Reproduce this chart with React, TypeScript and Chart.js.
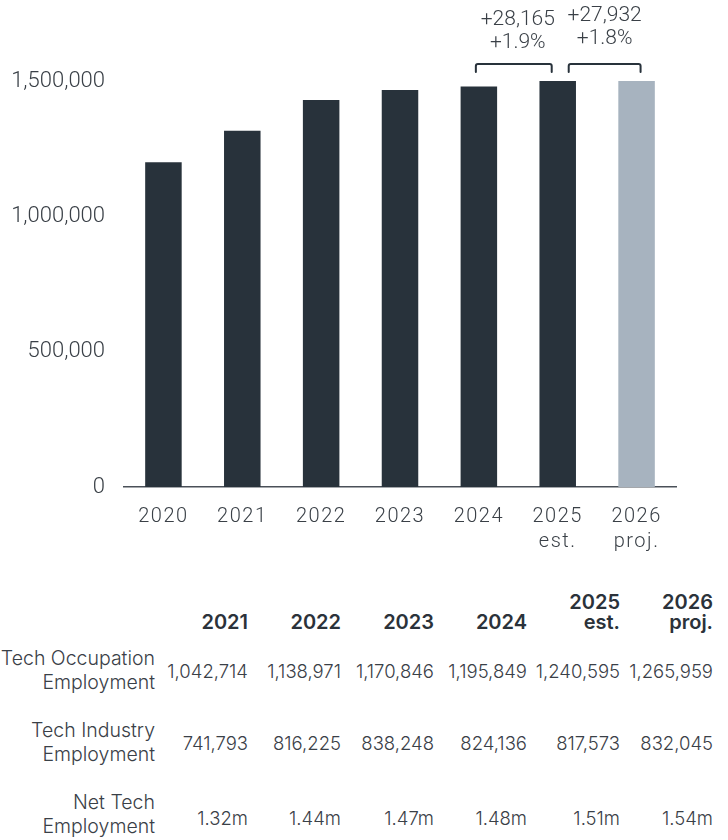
import React, { useEffect, useRef } from "react";
import { Chart, registerables } from "chart.js";

Chart.register(...registerables);

// ---- chart data ----
const years = ["2020", "2021", "2022", "2023", "2024", "2025", "2026"];
const yearSub = ["", "", "", "", "", "est.", "proj."];
const netEmployment = [1200000, 1316000, 1430000, 1467000, 1480000, 1510000, 1538000];
const projected = [false, false, false, false, false, false, true];
const yTicks = [0, 500000, 1000000, 1500000];

// ---- change annotations ----
const changeFrom = ["2024", "2025"];
const changeTo = ["2025", "2026"];
const changeAbs = ["+28,165", "+27,932"];
const changePct = ["+1.9%", "+1.8%"];

// ---- table data ----
const tableYears = ["2021", "2022", "2023", "2024", "2025", "2026"];
const tableYearSub = ["", "", "", "", "est.", "proj."];
const techOccupation = [1042714, 1138971, 1170846, 1195849, 1240595, 1265959];
const techIndustry = [741793, 816225, 838248, 824136, 817573, 832045];
const netTech = [1.32, 1.44, 1.47, 1.48, 1.51, 1.54];
const rowLabels = [
  ["Tech Occupation", "Employment"],
  ["Tech Industry", "Employment"],
  ["Net Tech", "Employment"],
];

const DARK = "#28323b";
const PROJ = "#a7b3bf";
const TEXT = "#3a4047";

const bracketStyles = [
  { left: -3, right: -6, textDx: 4, textDy: 1 },
  { left: 11, right: 4, textDx: 0, textDy: -3 },
];

const bracketPlugin = {
  id: "brackets",
  beforeDraw(chart: any) {
    const x = chart.scales.x;
    if (x && !x.__spaced) {
      const orig = x.drawLabels.bind(x);
      x.drawLabels = (area: any) => {
        const c = chart.ctx;
        c.save();
        c.letterSpacing = "1.5px";
        orig(area);
        c.restore();
      };
      x.__spaced = true;
    }
  },
  afterDraw(chart: any) {
    const { ctx, chartArea } = chart;
    const x = chart.scales.x;
    changeFrom.forEach((from, i) => {
      const st = bracketStyles[i];
      const x0 = x.getPixelForValue(years.indexOf(from)) + st.left;
      const x1 = x.getPixelForValue(years.indexOf(changeTo[i])) + st.right;
      const yTop = chartArea.top - 17;
      const yLeg = yTop + 8;
      ctx.save();
      ctx.strokeStyle = DARK;
      ctx.lineWidth = 2;
      ctx.lineJoin = "round";
      ctx.lineCap = "round";
      ctx.beginPath();
      ctx.moveTo(x0, yLeg);
      ctx.arcTo(x0, yTop, x1, yTop, 2);
      ctx.arcTo(x1, yTop, x1, yLeg, 2);
      ctx.lineTo(x1, yLeg);
      ctx.stroke();
      ctx.fillStyle = TEXT;
      ctx.font = "300 21px Roboto, 'Noto Sans', sans-serif";
      ctx.textAlign = "center";
      ctx.textBaseline = "middle";
      const cx = (x0 + x1) / 2 + st.textDx;
      ctx.fillText(changeAbs[i], cx, chartArea.top - 62 + st.textDy);
      ctx.fillText(changePct[i], cx, chartArea.top - 39 + st.textDy);
      ctx.restore();
    });
  },
};

function BarChart() {
  const ref = useRef<HTMLCanvasElement>(null);
  useEffect(() => {
    if (!ref.current) return;
    const chart = new Chart(ref.current, {
      type: "bar",
      data: {
        labels: years.map((y, i) => (yearSub[i] ? [y, yearSub[i]] : y)),
        datasets: [
          {
            data: netEmployment,
            backgroundColor: projected.map((p) => (p ? PROJ : DARK)),
            barPercentage: 0.463,
            categoryPercentage: 1,
          },
        ],
      },
      options: {
        animation: false,
        responsive: false,
        devicePixelRatio: 1,
        layout: { padding: { top: 81, right: 52, left: 0, bottom: 0 } },
        plugins: { legend: { display: false }, tooltip: { enabled: false } },
        scales: {
          x: {
            grid: { display: false, drawTicks: false },
            border: { display: true, color: "#4a5058", width: 1.5 },
            ticks: {
              color: TEXT,
              font: { family: "Roboto, 'Noto Sans', sans-serif", size: 20, weight: "300", lineHeight: 1.25 },
              padding: 17,
              maxRotation: 0,
              autoSkip: false,
            },
            afterFit: (axis: any) => {
              axis.height = 80;
            },
          },
          y: {
            min: 0,
            max: 1500000,
            grid: { display: false, drawTicks: false },
            border: { display: false },
            afterBuildTicks: (axis: any) => {
              axis.ticks = yTicks.map((v) => ({ value: v }));
            },
            ticks: {
              color: TEXT,
              font: { family: "Roboto, 'Noto Sans', sans-serif", size: 22, weight: "300" },
              padding: 19,
              callback: (v: any) => Number(v).toLocaleString("en-US"),
            },
            afterFit: (axis: any) => {
              axis.width = 124;
            },
          },
        },
      },
      plugins: [bracketPlugin],
    } as any);
    return () => chart.destroy();
  }, []);
  return <canvas ref={ref} width={728} height={567} style={{ display: "block" }} />;
}

const fmt = (v: number) => v.toLocaleString("en-US");

function DataTable() {
  const cols = "155px repeat(6, 93px)";
  const rows = [
    techOccupation.map(fmt),
    techIndustry.map(fmt),
    netTech.map((v) => `${v.toFixed(2)}m`),
  ];
  return (
    <div
      style={{
        position: "absolute",
        left: 0,
        top: 590,
        width: 728,
        fontFamily: "Inter, 'Noto Sans', sans-serif",
        color: TEXT,
      }}
    >
      <div
        style={{
          display: "grid",
          gridTemplateColumns: cols,
          height: 42,
          alignItems: "end",
          paddingBottom: 4,
        }}
      >
        <div />
        {tableYears.map((y, i) => (
          <div
            key={y}
            style={{ textAlign: "right", fontWeight: 600, fontSize: 20, lineHeight: "20px", color: "#2b323a" }}
          >
            {y}
            {tableYearSub[i] ? (
              <>
                <br />
                {tableYearSub[i]}
              </>
            ) : null}
          </div>
        ))}
      </div>
      {rows.map((vals, r) => (
        <div
          key={r}
          style={{
            display: "grid",
            gridTemplateColumns: cols,
            height: 72,
            alignItems: "center",
            marginTop: r === 0 ? -2 : 0,
          }}
        >
          <div
            style={{
              textAlign: "right",
              fontSize: 19.5,
              fontWeight: 300,
              lineHeight: "24px",
              whiteSpace: "nowrap",
              direction: "rtl",
            }}
          >
            <div style={{ direction: "ltr", display: "inline-block", textAlign: "right" }}>
              {rowLabels[r][0]}
              <br />
              {rowLabels[r][1]}
            </div>
          </div>
          {vals.map((v, i) => (
            <div
              key={i}
              style={{ textAlign: "right", fontSize: 18.5, fontWeight: 300, paddingTop: r === 2 ? 8 : 2 }}
            >
              {v}
            </div>
          ))}
        </div>
      ))}
    </div>
  );
}

export default function App() {
  return (
    <div style={{ position: "absolute", left: 0, top: 0, width: 728, height: 840, background: "#fff" }}>
      <BarChart />
      <DataTable />
    </div>
  );
}
